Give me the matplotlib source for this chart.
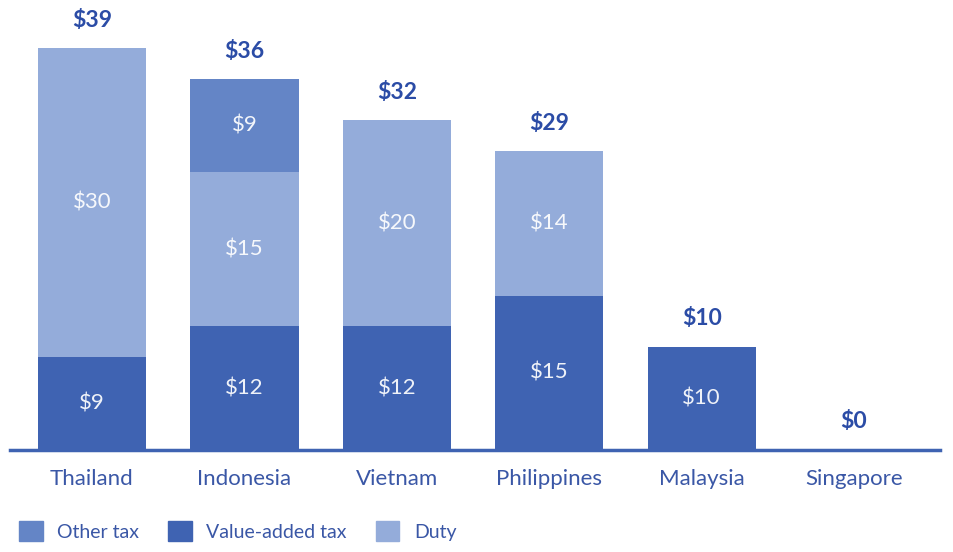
import matplotlib.pyplot as plt
from matplotlib.patches import Patch
import numpy as np

countries = ["Thailand", "Indonesia", "Vietnam", "Philippines", "Malaysia", "Singapore"]
vat = [9, 12, 12, 15, 10, 0]
duty = [30, 15, 20, 14, 0, 0]
other = [0, 9, 0, 0, 0, 0]
totals = [39, 36, 32, 29, 10, 0]

c_vat = "#3f63b2"
c_other = "#6485c6"
c_duty = "#94acda"
c_text = "#3a57a6"
c_top = "#2b4ca6"

plt.rcParams['font.family'] = ['Lato', 'DejaVu Sans']

fig = plt.figure(figsize=(9.54, 5.52), dpi=100)
ax = fig.add_axes([10 / 954, 102 / 552, 930 / 954, 450 / 552])

x = np.arange(len(countries))
w = 0.71
ax.bar(x, vat, w, color=c_vat)
ax.bar(x, duty, w, bottom=vat, color=c_duty)
bottom2 = [a + b for a, b in zip(vat, duty)]
ax.bar(x, other, w, bottom=bottom2, color=c_other)

for i in range(len(countries)):
    segs = [(vat[i], 0), (duty[i], vat[i]), (other[i], bottom2[i])]
    for val, b in segs:
        if val > 0:
            ax.text(x[i], b + val / 2, f"${val}", ha="center", va="center",
                    color="white", fontsize=16, alpha=0.92)
    ax.text(x[i], totals[i] + 1.7, f"${totals[i]}", ha="center", va="bottom",
            color=c_top, fontsize=16.5, fontweight="bold")

ax.set_xlim(-0.538, 5.564)
ax.set_ylim(0, 450 / 10.3)
for s in ["top", "right", "left"]:
    ax.spines[s].set_visible(False)
ax.spines["bottom"].set_color(c_vat)
ax.spines["bottom"].set_linewidth(2.5)
ax.set_yticks([])
ax.set_xticks(x)
ax.set_xticklabels(countries, fontsize=16, color=c_text)
ax.tick_params(axis="x", length=0, pad=14)

handles = [Patch(color=c_other, label="Other tax"),
           Patch(color=c_vat, label="Value-added tax"),
           Patch(color=c_duty, label="Duty")]
fig.legend(handles=handles, loc="lower left", bbox_to_anchor=(0.002, -0.012), ncol=3,
           frameon=False, fontsize=14, handlelength=1.2, handleheight=1.2,
           columnspacing=1.5, handletextpad=0.75, labelcolor=c_text)

fig.savefig("out.png", dpi=100)
